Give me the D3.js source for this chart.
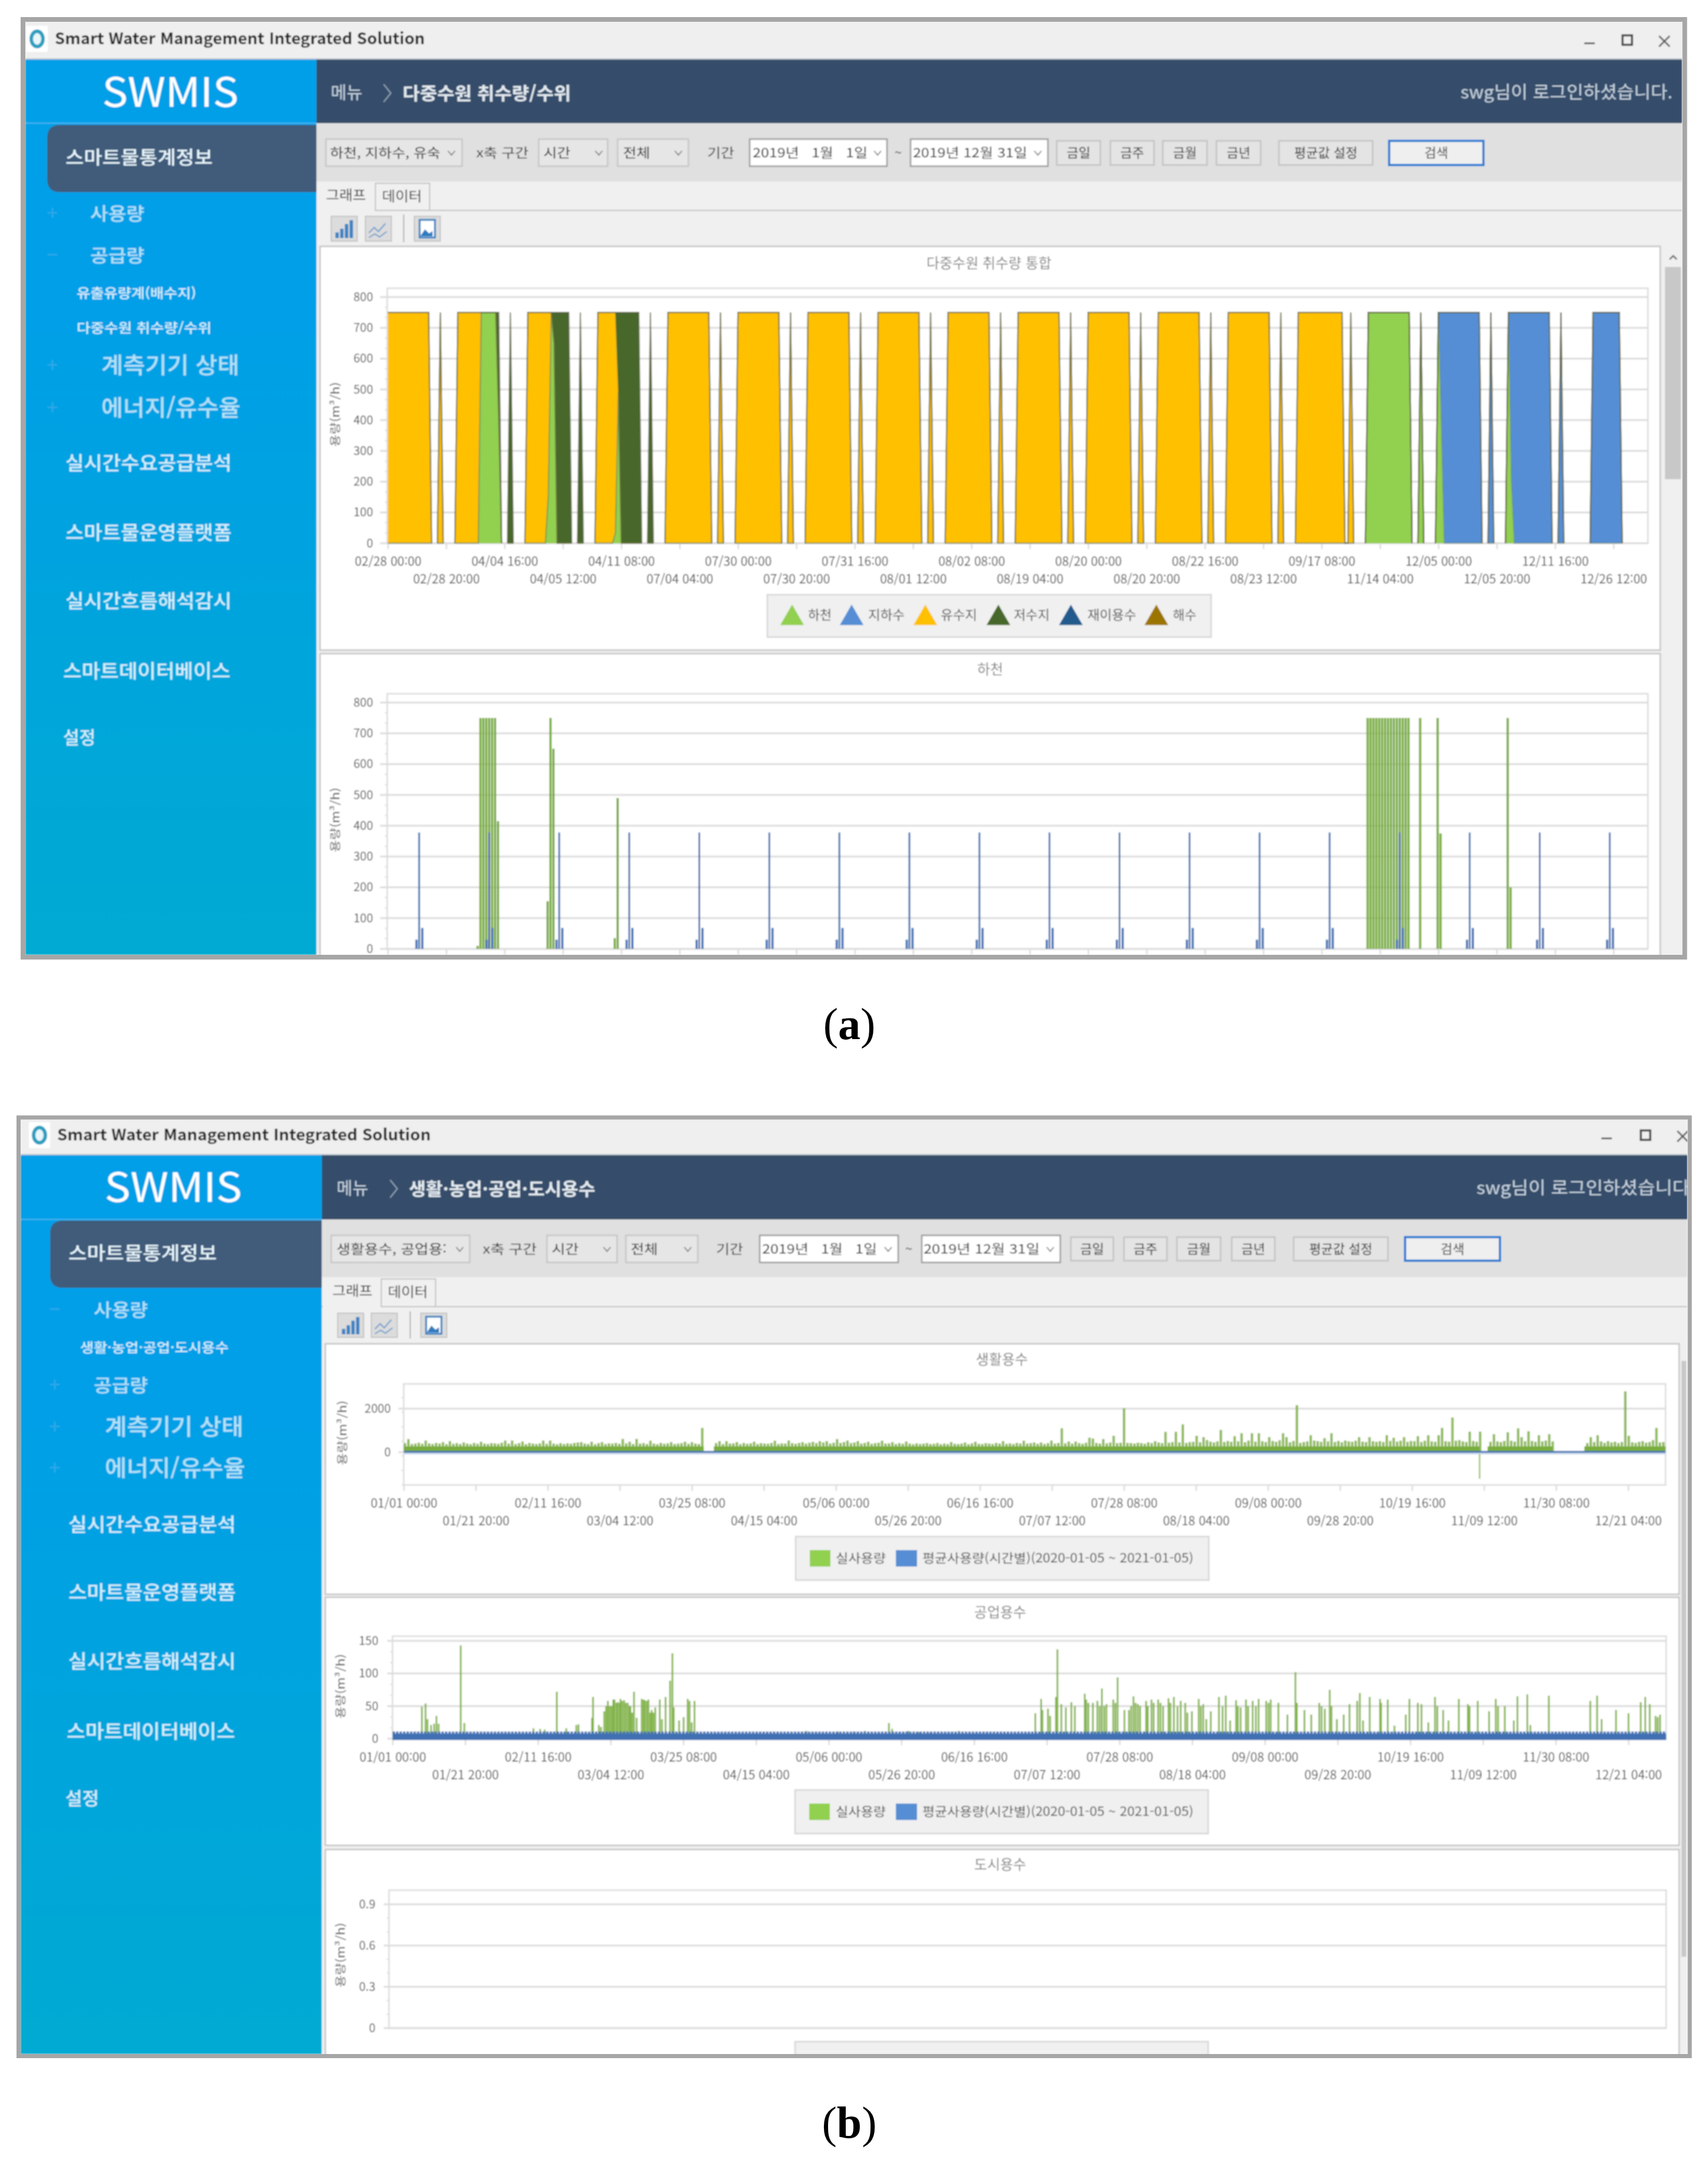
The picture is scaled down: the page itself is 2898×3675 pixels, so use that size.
<!DOCTYPE html>
<html lang="ko">
<head>
<meta charset="utf-8">
<title>SWMIS</title>
<script src="https://cdn.jsdelivr.net/npm/d3@7/dist/d3.min.js"></script>
<style>
  html, body { margin: 0; padding: 0; background: #fff; }
  svg { display: block; }
  text { font-family: "Noto Sans CJK KR", "Noto Sans", sans-serif; }
  .axis text { font-size: 21px; fill: #4c4c4c; }
  .axis line { stroke: #dcdcdc; stroke-width: 2.5; }
  .axis .domain { display: none; }
</style>
</head>
<body>
<svg id="page" width="2898" height="3675" viewBox="0 0 2898 3675"></svg>
<script>
/* ---- chart values ---- */

// (a) stacked area, hourly points; runs are [first hour, last hour, m3/h]
const mixLabels = ["02/28 00:00", "02/28 20:00", "04/04 16:00", "04/05 12:00", "04/11 08:00", "07/04 04:00",
  "07/30 00:00", "07/30 20:00", "07/31 16:00", "08/01 12:00", "08/02 08:00", "08/19 04:00", "08/20 00:00",
  "08/20 20:00", "08/22 16:00", "08/23 12:00", "09/17 08:00", "11/14 04:00", "12/05 00:00", "12/05 20:00",
  "12/11 16:00", "12/26 12:00"];
const mixNames = ["하천", "지하수", "유수지", "저수지", "재이용수", "해수"];
const mixRiver = [[32, 37, 750], [38, 38, 415], [55, 55, 155], [56, 56, 750], [57, 57, 650], [78, 78, 35],
  [79, 79, 490], [336, 350, 750], [354, 354, 750], [360, 360, 750], [361, 361, 375], [384, 384, 750], [385, 385, 200]];
const mixGround = [[361, 361, 375], [362, 374, 750], [378, 378, 750], [385, 385, 550], [386, 398, 750],
  [402, 402, 750], [413, 422, 750]];
const mixPond = [[0, 14, 750], [18, 18, 750], [24, 31, 750], [48, 54, 750], [55, 55, 595], [72, 77, 750], [78, 78, 715],
  [96, 110, 750], [114, 114, 750], [120, 134, 750], [138, 138, 750], [144, 158, 750], [162, 162, 750],
  [168, 182, 750], [186, 186, 750], [192, 206, 750], [210, 210, 750], [216, 230, 750], [234, 234, 750],
  [240, 254, 750], [258, 258, 750], [264, 278, 750], [282, 282, 750], [288, 302, 750], [306, 306, 750],
  [312, 327, 750], [330, 330, 750]];
const mixReservoir = [[38, 38, 335], [42, 42, 750], [57, 57, 100], [58, 62, 750], [66, 66, 750],
  [79, 79, 260], [80, 86, 750], [90, 90, 750]];
const mixReuse = [];
const mixSea = [];

// (a) lower chart, columns per hour
const riverFlow = [[31, 31, 10], [32, 37, 750], [38, 38, 415], [55, 55, 155], [56, 56, 750], [57, 57, 650],
  [78, 78, 35], [79, 79, 490], [336, 350, 750], [354, 354, 750], [360, 360, 750], [361, 361, 375],
  [384, 384, 750], [385, 385, 200]];
const groundDailyProfile = [[10, 30], [11, 378], [12, 68]];
const flowDays = 18;

// (b) tick labels
const yearLabels = ["01/01 00:00", "01/21 20:00", "02/11 16:00", "03/04 12:00", "03/25 08:00", "04/15 04:00",
  "05/06 00:00", "05/26 20:00", "06/16 16:00", "07/07 12:00", "07/28 08:00", "08/18 04:00", "09/08 00:00",
  "09/28 20:00", "10/19 16:00", "11/09 12:00", "11/30 08:00", "12/21 04:00"];

// (b) 생활용수: highest reading per day
const domesticUse = [
  420, 604, 380, 400, 440, 390, 540, 410, 380, 430, 400, 468, 370, 513, 390, 420, 380, 450, 400, 370,
  430, 390, 486, 400, 380, 420, 410, 390, 440, 540, 400, 540, 380, 420, 495, 370, 430, 400, 380, 410,
  540, 390, 540, 400, 370, 420, 380, 410, 390, 430, 450, 468, 400, 380, 486, 370, 420, 468, 380, 410,
  400, 430, 390, 612, 410, 486, 380, 612, 400, 420, 380, 531, 400, 370, 430, 390, 410, 468, 380, 400,
  420, 486, 390, 468, 400, 380, 1117, 0, 0, 0, 420, 513, 380, 513, 400, 410, 468, 370, 430, 390,
  410, 486, 380, 420, 400, 390, 430, 531, 380, 410, 400, 540, 420, 390, 430, 468, 400, 440, 480, 420,
  513, 450, 513, 400, 440, 604, 430, 470, 540, 420, 450, 513, 400, 430, 486, 390, 420, 440, 531, 400,
  410, 468, 380, 420, 390, 495, 400, 370, 410, 380, 400, 423, 380, 390, 423, 370, 400, 380, 468, 390,
  380, 400, 450, 370, 410, 486, 390, 380, 420, 400, 380, 430, 400, 513, 390, 410, 380, 430, 400, 531,
  400, 420, 450, 390, 450, 380, 420, 540, 400, 430, 1099, 410, 495, 400, 495, 420, 390, 440, 667, 630,
  430, 400, 604, 410, 450, 757, 420, 440, 2018, 430, 423, 400, 440, 423, 390, 460, 420, 513, 450, 420,
  937, 440, 470, 937, 450, 1279, 430, 468, 480, 757, 460, 694, 558, 490, 450, 500, 1027, 470, 520, 480,
  739, 500, 874, 460, 540, 874, 490, 874, 510, 470, 694, 520, 480, 550, 874, 694, 460, 520, 2162, 430,
  470, 500, 784, 540, 513, 480, 649, 500, 874, 470, 520, 460, 540, 500, 480, 530, 694, 490, 470, 694,
  510, 480, 513, 470, 784, 520, 667, 490, 530, 694, 480, 520, 510, 739, 470, 530, 784, 500, 480, 784,
  1117, 510, 490, 1595, 530, 558, 500, 470, 946, 520, 480, 946, 0, 0, 480, 829, 500, 468, 520, 919,
  530, 490, 1099, 694, 510, 964, 520, 480, 784, 500, 540, 829, 500, 0, 0, 0, 0, 0, 0, 0,
  0, 0, 420, 694, 470, 784, 500, 430, 513, 450, 486, 420, 470, 2793, 757, 460, 430, 480, 513, 440,
  470, 558, 1117, 450, 468];
const domesticFloorRuns = [[0, 86.8], [89.7, 311.2], [313.5, 332.3], [341.5, 365]];
const domesticFloor = 270;
const domesticDips = [[311, -1216], [320, -70], [326, -70]];
const domesticAverage = [60, -20];
const domesticAveragePale = [-20, -100];

// (b) 공업용수: [hour, m3/h]
const industrialUse = [[196, 49], [221, 54], [234, 30], [259, 21], [280, 23], [296, 35], [311, 23], [463, 143], [488, 24],
  [963, 16], [1009, 15], [1041, 14], [1124, 72], [1189, 16], [1258, 21], [1273, 22], [1366, 32], [1373, 64], [1413, 21], [1428, 18],
  [1450, 42], [1463, 50], [1475, 58], [1487, 50], [1500, 50], [1512, 60], [1521, 60], [1534, 55], [1543, 56], [1556, 55],
  [1562, 61], [1574, 58], [1587, 59], [1599, 55], [1612, 55], [1624, 50], [1630, 50], [1642, 40], [1655, 72], [1673, 32],
  [1708, 61], [1720, 60], [1729, 59], [1742, 58], [1754, 60], [1767, 40], [1776, 44], [1788, 40], [1801, 48], [1832, 60],
  [1847, 30], [1872, 64], [1903, 89], [1919, 131], [1928, 48], [1965, 28], [1996, 33], [2024, 61], [2037, 58], [2052, 25], [2071, 58],
  [2840, 12], [3057, 11], [3166, 11], [3243, 12], [3337, 10], [3408, 24], [3430, 15], [3539, 12], [3616, 10], [3693, 10], [3889, 12],
  [4415, 39], [4455, 61], [4464, 44], [4502, 46], [4517, 35], [4557, 64], [4567, 137], [4594, 53], [4625, 48], [4663, 56],
  [4687, 50], [4755, 69], [4765, 60], [4780, 55], [4811, 55], [4842, 58], [4858, 50], [4873, 77], [4889, 50], [4904, 53],
  [4951, 60], [4966, 55], [4981, 94], [5028, 44], [5059, 44], [5074, 50], [5090, 65], [5105, 55], [5121, 53], [5136, 50],
  [5177, 58], [5189, 50], [5214, 60], [5229, 55], [5260, 60], [5276, 55], [5294, 50], [5331, 62], [5344, 55], [5368, 64],
  [5393, 50], [5415, 58], [5446, 55], [5461, 40], [5492, 42], [5539, 61], [5554, 50], [5570, 53], [5591, 30], [5622, 42],
  [5678, 64], [5703, 50], [5725, 66], [5755, 28], [5796, 59], [5808, 50], [5827, 48], [5864, 60], [5879, 50], [5910, 58],
  [5932, 50], [5951, 61], [6003, 58], [6019, 55], [6034, 60], [6087, 55], [6149, 37], [6204, 102], [6214, 55], [6266, 44],
  [6313, 37], [6368, 55], [6384, 50], [6406, 46], [6440, 75], [6452, 50], [6489, 30], [6536, 37], [6576, 53], [6629, 58],
  [6647, 70], [6669, 28], [6715, 64], [6786, 61], [6793, 55], [6839, 60], [6885, 20], [6963, 37], [6988, 61], [7046, 55],
  [7071, 53], [7118, 25], [7164, 64], [7180, 50], [7220, 44], [7257, 28], [7328, 61], [7390, 53], [7402, 50], [7458, 58],
  [7536, 42], [7582, 61], [7598, 50], [7644, 50], [7706, 28], [7731, 65], [7799, 68], [7820, 21], [7947, 66], [8232, 58],
  [8279, 66], [8310, 30], [8409, 44], [8495, 39], [8579, 56], [8610, 64], [8641, 53], [8681, 35], [8696, 33], [8712, 37]];
const industrialAverage = [-2, 8];
const industrialAverageTeeth = [8, 11];
const yearDays = 365;

const useNames = ["실사용량", "평균사용량(시간별)(2020-01-05 ~ 2021-01-05)"];

/* ---- helpers ---- */
const GREEN = "#92d050", BLUE = "#558ed5", BAR_GREEN = "#7aae3e", BAR_BLUE = "#3f70b3";
const mixColors = [GREEN, BLUE, "#ffc000", "#47682b", "#215a8e", "#9c7500"];
const mixLineColors = ["#5f7f30", "#4a6a80", "#8a6d10", "#5a6a40", "#35506a", "#7a6a30"];

const svg = d3.select("#page");
const defs = svg.append("defs");
const soft = defs.append("filter").attr("id", "soft").attr("x", 0).attr("y", 0).attr("width", 1).attr("height", 1);
soft.append("feGaussianBlur").attr("stdDeviation", 0.8);

function rect(g, x0, y0, x1, y1, fill, stroke, sw) {
  return g.append("rect").attr("x", x0).attr("y", y0).attr("width", x1 - x0).attr("height", y1 - y0)
    .attr("fill", fill).attr("stroke", stroke || "none").attr("stroke-width", sw || 0);
}

function label(g, x, y, str, size, fill, width, anchor) {
  const t = g.append("text").attr("x", x).attr("y", y).attr("dy", ".35em").attr("font-size", size)
    .attr("fill", fill).attr("text-anchor", anchor || "start").text(str);
  if (width) t.attr("textLength", width).attr("lengthAdjust", "spacingAndGlyphs");
  return t;
}

function expandRuns(runs, length) {
  const out = new Array(length).fill(0);
  runs.forEach(([a, b, v]) => { for (let h = a; h <= b; h++) out[h] = v; });
  return out;
}

function chevron(g, x, y) {
  g.append("path").attr("d", `M${x - 6},${y - 3}L${x},${y + 4}L${x + 6},${y - 3}`)
    .attr("fill", "none").attr("stroke", "#777").attr("stroke-width", 1.8);
}

function iconButton(g, x0, y0, x1, y1, kind) {
  rect(g, x0, y0, x1, y1, "#dcdcdc", "#c4c4c4", 2);
  const h = (y1 - y0);
  if (kind === "bars") {
    [0.3, 0.5, 0.75, 0.95].forEach((f, i) => rect(g, x0 + 7 + i * 8, y1 - 5 - (h - 10) * f, x0 + 13 + i * 8, y1 - 5, "#3f85c4"));
  } else if (kind === "lines") {
    g.append("path").attr("d", `M${x0 + 6},${y1 - 14}l9,-9l7,7l12,-14M${x0 + 6},${y1 - 6}l10,-6l8,5l12,-9`)
      .attr("fill", "none").attr("stroke", "#6a9ccc").attr("stroke-width", 2);
  } else {
    rect(g, x0 + 9, y0 + 6, x1 - 9, y1 - 6, "#fff", "#2f7cc0", 3);
    g.append("path").attr("d", `M${x0 + 10},${y1 - 8}l8,-12l7,7l6,-4v9z`).attr("fill", "#2f7cc0");
  }
}

// one application window with its sidebar, header, tool row and tabs
function drawWindow(c) {
  const id = "clip" + c.id;
  defs.append("clipPath").attr("id", id).append("rect")
    .attr("x", c.x0).attr("y", c.y0).attr("width", c.x1 - c.x0).attr("height", c.y1 - c.y0);
  const g = svg.append("g").attr("clip-path", `url(#${id})`);
  const grad = defs.append("linearGradient").attr("id", "side" + c.id).attr("x1", 0).attr("x2", 0).attr("y1", 0).attr("y2", 1);
  grad.append("stop").attr("offset", "0.25").attr("stop-color", "#009fe8");
  grad.append("stop").attr("offset", "1").attr("stop-color", "#00aad2");

  rect(g, c.x0, c.y0, c.x1, c.y1, "#f0f0f0");
  rect(g, c.x0, c.y0, c.x1, c.titleY, "#efefef");
  rect(g, c.x0, c.titleY - 2, c.x1, c.titleY, "#b9c4cf");
  rect(g, c.logo - 18, c.titleCy - 22, c.logo + 18, c.titleCy + 22, "#ffffff");
  g.append("ellipse").attr("cx", c.logo).attr("cy", c.titleCy).attr("rx", 10).attr("ry", 13)
    .attr("fill", "#eaf6f9").attr("stroke", "#2a9fc0").attr("stroke-width", 6);
  label(g, c.title[0], c.titleCy, "Smart Water Management Integrated Solution", 27, "#222", c.title[1] - c.title[0]).attr("font-weight", 700);
  rect(g, c.ctl[0] - 9, c.ctl[3] + 3, c.ctl[0] + 9, c.ctl[3] + 6, "#555");
  rect(g, c.ctl[1] - 8, c.ctl[3] - 9, c.ctl[1] + 8, c.ctl[3] + 7, "none", "#444", 3.5);
  g.append("path").attr("d", `M${c.ctl[2] - 9},${c.ctl[3] - 8}l18,18m0,-18l-18,18`).attr("stroke", "#555").attr("stroke-width", 2.5);

  rect(g, c.x0, c.titleY, c.sideX, c.y1, `url(#side${c.id})`);
  rect(g, c.sideX, c.titleY, c.x1, c.headY, "#344d6b");
  rect(g, c.x0, c.headY - 1, c.sideX, c.headY + 1, "#3fb4ee");
  rect(g, c.sideX, c.headY, c.x1, c.toolY, "#e0e0e0");
  label(g, c.logoCx, c.logoCy, "SWMIS", 68, "#ffffff", c.logoW, "middle");
  label(g, c.menu[0], c.headCy, "메뉴", 29, "#c8d3df", 54);
  g.append("path").attr("d", `M${c.menu[1] - 6},${c.headCy - 15}l12,15l-12,15`).attr("fill", "none").attr("stroke", "#98a8ba").attr("stroke-width", 2);
  label(g, c.crumb[0], c.headCy, c.crumb[2], 30, "#e4eaf0", c.crumb[1] - c.crumb[0]).attr("font-weight", 700);
  label(g, c.user[0], c.headCy - 1, c.user[2], 29, "#c8d3df", c.user[1] - c.user[0]);

  g.append("path").attr("d", `M${c.sideX},${c.pill[1]}H${c.pill[0] + 22}Q${c.pill[0]},${c.pill[1]} ${c.pill[0]},${c.pill[1] + 22}V${c.pill[2] - 22}Q${c.pill[0]},${c.pill[2]} ${c.pill[0] + 22},${c.pill[2]}H${c.sideX}Z`).attr("fill", "#3f5b7a");
  c.sideItems.forEach(([x, y, str, size, w, fill]) => label(g, x, y, str, size, fill || "#d6f0fc", w).attr("font-weight", 500));
  c.marks.forEach(([y, m]) => label(g, c.markX, y, m, 34, "#2fa9e8", null, "middle"));

  // tool row
  c.selects.forEach(([x0, x1, str, tx, tw, chev, white]) => {
    rect(g, x0, c.selY[0], x1, c.selY[1], white ? "#ffffff" : "#e6e6e6", white ? "#9a9a9a" : "#c6c6c6", 2.5);
    label(g, tx, c.toolCy, str, 22, "#222", tw);
    chevron(g, chev, c.toolCy);
  });
  c.toolTexts.forEach(([x, str, w]) => label(g, x, c.toolCy, str, 22, "#333", w));
  c.buttons.forEach(([x0, x1, str]) => {
    rect(g, x0, c.btnY[0], x1, c.btnY[1], "#e4e4e4", "#c2c2c2", 2.5);
    label(g, (x0 + x1) / 2, c.toolCy, str, 22, "#222", null, "middle");
  });
  rect(g, c.search[0], c.btnY[0], c.search[1], c.btnY[1], "#efefef", "#1f7fd6", 4);
  label(g, (c.search[0] + c.search[1]) / 2, c.toolCy, "검색", 22, "#333", null, "middle");

  // tabs and icons
  rect(g, c.sideX, c.tabLine - 1, c.x1, c.tabLine + 1, "#c2c2c2");
  rect(g, c.tabA[0], c.toolY, c.tabA[1], c.tabLine + 1, "#f0f0f0");
  rect(g, c.tabA[1] - 1, c.toolY + 3, c.tabB, c.tabLine, "#f0f0f0", "#c2c2c2", 2);
  label(g, c.tabA[2], c.toolY + 23, "그래프", 23, "#222", 68);
  label(g, c.tabA[1] + 10, c.toolY + 25, "데이터", 23, "#333", 68);
  iconButton(g, c.icons[0], c.iconY[0], c.icons[0] + 44, c.iconY[1], "bars");
  iconButton(g, c.icons[1], c.iconY[0], c.icons[1] + 44, c.iconY[1], "lines");
  rect(g, c.icons[2] - 1, c.iconY[0] - 3, c.icons[2] + 1, c.iconY[1] + 2, "#b0b0b0");
  iconButton(g, c.icons[3], c.iconY[0], c.icons[3] + 44, c.iconY[1], "image");
  return g;
}

// white chart panel: frame, title, y axis, grid; returns scales and plot layer
function drawPanel(g, c) {
  const panel = g.append("g");
  rect(panel, c.panel[0], c.panel[1], c.panel[2], c.panel[3], "#ffffff", "#c4c4c4", 2.5);
  label(panel, c.titleX, c.titleY, c.title, 24, "#808080", null, "middle");

  const x = d3.scaleLinear().domain(c.xDomain).range(c.xRange);
  const y = d3.scaleLinear().domain(c.yDomain).range(c.yRange);
  const major = c.yTicks[1] - c.yTicks[0];
  const minor = d3.range(c.yDomain[0], c.yDomain[1], major / 3);

  panel.append("g").selectAll("line").data(minor).join("line")
    .attr("x1", c.left - 4).attr("x2", c.left).attr("y1", y).attr("y2", y)
    .attr("stroke", "#dedede").attr("stroke-width", 2);
  panel.append("g").selectAll("line").data(c.yTicks).join("line")
    .attr("x1", c.gridFrom).attr("x2", c.right).attr("y1", y).attr("y2", y)
    .attr("stroke", "#dcdcdc").attr("stroke-width", 3);
  rect(panel, c.left, c.top, c.right, c.bottom, "none", "#dcdcdc", 2.5);

  const yAxis = panel.append("g").attr("class", "axis")
    .attr("transform", `translate(${c.labelRight},0)`)
    .call(d3.axisLeft(y).tickValues(c.yTicks).tickSize(0).tickPadding(0).tickFormat((d) => String(d)));
  yAxis.selectAll("text").attr("font-size", 20).style("font-size", "20px");

  panel.append("text").attr("transform", `translate(${c.unitX},${c.unitY}) rotate(-90)`)
    .attr("text-anchor", "middle").attr("dy", ".35em").attr("font-size", 19).attr("fill", "#4a4a4a")
    .attr("textLength", 110).attr("lengthAdjust", "spacingAndGlyphs").text("용량(m³/h)");

  if (c.xLabels) {
    const xAxis = panel.append("g").attr("class", "axis").attr("transform", `translate(0,${c.bottom})`)
      .call(d3.axisBottom(x).tickValues(c.xTicks).tickSize(10).tickFormat((d, i) => c.xLabels[i]));
    xAxis.selectAll("text").attr("y", (d, i) => (i % 2 ? 61 : 31)).attr("dy", ".35em");
  } else {
    panel.append("g").attr("class", "axis").attr("transform", `translate(0,${c.bottom})`)
      .call(d3.axisBottom(x).tickValues(c.xTicks).tickSize(10).tickFormat(""));
  }
  return { g: panel, x, y };
}

function swatchLegend(g, box, cy, items) {
  rect(g, box[0], cy - 37, box[1], cy + 37, "#f0f0f0", "#d6d6d6", 2.5);
  rect(g, items[0], cy - 14, items[0] + 35, cy + 14, GREEN);
  label(g, items[1], cy, useNames[0], 21, "#4c4c4c", 85);
  rect(g, items[2], cy - 14, items[2] + 36, cy + 14, BLUE);
  label(g, items[3], cy, useNames[1], 21, "#4c4c4c", items[4] - items[3]);
}

/* ---- window (a) ---- */
const winA = drawWindow({
  id: "A", x0: 43, y0: 36, x1: 2854, y1: 1620, titleY: 101, titleCy: 66, logo: 63, title: [93, 721],
  ctl: [2697, 2761, 2824, 69], sideX: 537, headY: 209, toolY: 308, logoCx: 289, logoCy: 157, logoW: 231,
  menu: [561, 657], headCy: 158, crumb: [683, 969, "다중수원 취수량/수위"], user: [2478, 2838, "swg님이 로그인하셨습니다."],
  pill: [80, 212, 326],
  sideItems: [[111, 267, "스마트물통계정보", 31, 250, "#e8f6fd"], [153, 362, "사용량", 30, 92, "#b4e2f8"], [153, 433, "공급량", 30, 92, "#b4e2f8"],
    [130, 497, "유출유량계(배수지)", 22, 203], [130, 556, "다중수원 취수량/수위", 22, 229],
    [172, 620, "계측기기 상태", 38, 234, "#b4e2f8"], [172, 692, "에너지/유수율", 38, 236, "#b4e2f8"],
    [111, 786, "실시간수요공급분석", 32, 282], [111, 904, "스마트물운영플랫폼", 32, 282], [111, 1020, "실시간흐름해석감시", 32, 282],
    [107, 1139, "스마트데이터베이스", 32, 284], [107, 1251, "설정", 30, 55]],
  markX: 89, marks: [[362, "+"], [433, "−"], [620, "+"], [692, "+"]],
  toolCy: 259, selY: [236, 282], btnY: [239, 280],
  selects: [[553, 784, "하천, 지하수, 유숙", 560, 187, 766], [914, 1031, "시간", 922, 46, 1016], [1048, 1168, "전체", 1057, 46, 1151],
    [1272, 1505, "2019년\u00a0\u00a0\u00a01월\u00a0\u00a0\u00a01일", 1277, 195, 1489, true], [1545, 1778, "2019년 12월 31일", 1549, 194, 1761, true]],
  toolTexts: [[808, "x축 구간", 89], [1200, "기간", 46], [1518, "~", null]],
  buttons: [[1793, 1867, "금일"], [1884, 1958, "금주"], [1973, 2048, "금월"], [2064, 2139, "금년"], [2170, 2329, "평균값 설정"]],
  search: [2357, 2517], tabLine: 357, tabA: [537, 638, 553], tabB: 729,
  iconY: [367, 409], icons: [562, 620, 685, 703]
});
rect(winA, 2824, 418, 2854, 1620, "#f0f0f0");
rect(winA, 2825, 453, 2852, 813, "#c8c8c8");
winA.append("path").attr("d", "M2833,440l6,-6l6,6").attr("fill", "none").attr("stroke", "#666").attr("stroke-width", 2.5);

// stacked sources
const mixHours = 432;
const mixSeries = [mixRiver, mixGround, mixPond, mixReservoir, mixReuse, mixSea].map((r) => expandRuns(r, mixHours));
const mixRows = d3.range(mixHours).map((h) => {
  const row = { hour: h };
  mixNames.forEach((n, i) => { row[n] = mixSeries[i][h]; });
  return row;
});
const mixStack = d3.stack().keys(mixNames)(mixRows);
const mixTotal = mixRows.map((r) => d3.sum(mixNames, (n) => r[n]));

const mixPanel = drawPanel(winA, {
  panel: [543, 418, 2817, 1103], title: "다중수원 취수량 통합", titleX: 1678, titleY: 447,
  xDomain: [0, mixHours], xRange: [658, 2797], yDomain: [0, 800], yRange: [921.7, 504], yTicks: d3.range(0, 801, 100),
  left: 657, right: 2796, top: 489, bottom: 921.7, gridFrom: 645, labelRight: 633, unitX: 569, unitY: 703,
  xTicks: d3.range(0, 430, 20), xLabels: mixLabels
});
const mixArea = d3.area().x((d) => mixPanel.x(d.data.hour)).y0((d) => mixPanel.y(d[0])).y1((d) => mixPanel.y(d[1]));
mixPanel.g.append("g").selectAll("path").data(mixStack).join("path")
  .attr("d", mixArea).attr("fill", (d, i) => mixColors[i]);
const mixLine = d3.line().x((d) => mixPanel.x(d.data.hour)).y((d) => mixPanel.y(d[1]))
  .defined((d) => {
    const h = d.data.hour;
    return mixTotal[h] > 0 || mixTotal[h - 1] > 0 || mixTotal[h + 1] > 0;
  });
mixPanel.g.append("g").selectAll("path").data(mixStack).join("path")
  .attr("d", mixLine).attr("fill", "none").attr("stroke", (d, i) => mixLineColors[i])
  .attr("stroke-width", 2.2).attr("stroke-opacity", 0.32);

const triLegend = winA.append("g");
rect(triLegend, 1302, 1009, 2055, 1081, "#f0f0f0", "#d6d6d6", 2.5);
const triPos = [[1344, 1371, 40], [1445, 1473, 62], [1570, 1596, 62], [1694, 1720, 61], [1817, 1845, 83], [1962, 1990, 40]];
mixNames.forEach((n, i) => {
  const [cx, tx, w] = triPos[i];
  triLegend.append("path").attr("d", d3.symbol(d3.symbolTriangle, 700)())
    .attr("transform", `translate(${cx},1049)`).attr("fill", mixColors[i]);
  label(triLegend, tx, 1043, n, 22, "#4c4c4c", w);
});

// river and groundwater columns
const riverPanel = drawPanel(winA, {
  panel: [543, 1109, 2817, 1640], title: "하천", titleX: 1680, titleY: 1136,
  xDomain: [0, mixHours], xRange: [658, 2797], yDomain: [0, 800], yRange: [1610, 1192], yTicks: d3.range(0, 801, 100),
  left: 657, right: 2796, top: 1177, bottom: 1610, gridFrom: 645, labelRight: 633, unitX: 569, unitY: 1391,
  xTicks: d3.range(0, 430, 20), xLabels: null
});
const riverRows = expandRuns(riverFlow, mixHours).map((v, h) => ({ h, v })).filter((d) => d.v > 0);
const groundRows = d3.range(flowDays).flatMap((day) => groundDailyProfile.map(([h, v]) => ({ h: h + day * 24, v })));
riverPanel.g.append("g").selectAll("rect").data(riverRows).join("rect")
  .attr("x", (d) => riverPanel.x(d.h) - 3.2).attr("width", 4)
  .attr("y", (d) => riverPanel.y(d.v)).attr("height", (d) => riverPanel.y(0) - riverPanel.y(d.v))
  .attr("fill", BAR_GREEN);
riverPanel.g.append("g").selectAll("rect").data(groundRows).join("rect")
  .attr("x", (d) => riverPanel.x(d.h) - 2.8).attr("width", (d) => (d.v > 100 ? 3 : 3.8))
  .attr("y", (d) => riverPanel.y(d.v)).attr("height", (d) => riverPanel.y(0) - riverPanel.y(d.v))
  .attr("fill", BAR_BLUE);

/* ---- window (b) ---- */
const winB = drawWindow({
  id: "B", x0: 35, y0: 1899, x1: 2863, y1: 3485, titleY: 1960, titleCy: 1926, logo: 67, title: [97, 731],
  ctl: [2726, 2792, 2855, 1927], sideX: 546, headY: 2069, toolY: 2167, logoCx: 294, logoCy: 2015, logoW: 233,
  menu: [571, 668], headCy: 2017, crumb: [694, 1010, "생활·농업·공업·도시용수"], user: [2505, 2876, "swg님이 로그인하셨습니다."],
  pill: [85, 2071, 2185],
  sideItems: [[116, 2126, "스마트물통계정보", 31, 252, "#e8f6fd"], [159, 2222, "사용량", 30, 92, "#b4e2f8"],
    [136, 2286, "생활·농업·공업·도시용수", 22, 252], [159, 2350, "공급량", 30, 92, "#b4e2f8"],
    [178, 2421, "계측기기 상태", 38, 235, "#b4e2f8"], [178, 2491, "에너지/유수율", 38, 238, "#b4e2f8"],
    [116, 2587, "실시간수요공급분석", 32, 284], [116, 2702, "스마트물운영플랫폼", 32, 284], [116, 2819, "실시간흐름해석감시", 32, 284],
    [113, 2938, "스마트데이터베이스", 32, 286], [111, 3051, "설정", 30, 57]],
  markX: 93, marks: [[2222, "−"], [2350, "+"], [2421, "+"], [2491, "+"]],
  toolCy: 2119, selY: [2096, 2142], btnY: [2099, 2139],
  selects: [[562, 797, "생활용수, 공업용:", 571, 187, 780], [928, 1047, "시간", 936, 46, 1030], [1062, 1184, "전체", 1070, 46, 1167],
    [1289, 1524, "2019년\u00a0\u00a0\u00a01월\u00a0\u00a0\u00a01일", 1293, 195, 1507, true], [1564, 1799, "2019년 12월 31일", 1567, 197, 1782, true]],
  toolTexts: [[819, "x축 구간", 92], [1215, "기간", 46], [1536, "~", null]],
  buttons: [[1817, 1889, "금일"], [1907, 1980, "금주"], [1997, 2071, "금월"], [2090, 2163, "금년"], [2195, 2355, "평균값 설정"]],
  search: [2384, 2545], tabLine: 2217, tabA: [548, 648, 564], tabB: 739,
  iconY: [2228, 2269], icons: [573, 630, 696, 714]
});
rect(winB, 2853, 2309, 2861, 3320, "#c8c8c8");

const yearTicks = d3.range(0, 8760, 500);
const hourOfDay = 24;

const domesticPanel = drawPanel(winB, {
  panel: [552, 2280, 2849, 2705], title: "생활용수", titleX: 1700, titleY: 2307,
  xDomain: [0, 8760], xRange: [685, 2826], yDomain: [-1500, 3000], yRange: [2519.5, 2353], yTicks: [0, 2000],
  left: 685, right: 2826, top: 2348, bottom: 2519.5, gridFrom: 676, labelRight: 663, unitX: 581, unitY: 2431,
  xTicks: yearTicks, xLabels: yearLabels
});
const dx = domesticPanel.x, dy = domesticPanel.y;
domesticPanel.g.append("g").selectAll("rect").data(domesticUse).join("rect")
  .attr("x", (d, i) => dx(i * hourOfDay)).attr("width", 4.2)
  .attr("y", (d) => dy(d)).attr("height", (d) => dy(0) - dy(d))
  .attr("fill", BAR_GREEN).attr("opacity", 0.85);
domesticPanel.g.append("g").selectAll("rect").data(domesticFloorRuns).join("rect")
  .attr("x", (d) => dx(d[0] * hourOfDay)).attr("width", (d) => dx(d[1] * hourOfDay) - dx(d[0] * hourOfDay))
  .attr("y", dy(domesticFloor)).attr("height", dy(0) - dy(domesticFloor))
  .attr("fill", BAR_GREEN);
domesticPanel.g.append("g").selectAll("rect").data(domesticDips).join("rect")
  .attr("x", (d) => dx(d[0] * hourOfDay)).attr("width", 2.4)
  .attr("y", dy(0)).attr("height", (d) => dy(d[1]) - dy(0))
  .attr("fill", BAR_GREEN).attr("opacity", 0.8);
rect(domesticPanel.g, dx(0), dy(domesticAveragePale[0]), dx(8760), dy(domesticAveragePale[1]), "#c9d8ec");
rect(domesticPanel.g, dx(0), dy(domesticAverage[0]), dx(8760), dy(domesticAverage[1]), BAR_BLUE);
swatchLegend(domesticPanel.g, [1350, 2051], 2644, [1374, 1418, 1520, 1565, 2025]);

const industrialPanel = drawPanel(winB, {
  panel: [552, 2710, 2849, 3131], title: "공업용수", titleX: 1697, titleY: 2736,
  xDomain: [0, 8760], xRange: [666, 2827], yDomain: [0, 150], yRange: [2950, 2784], yTicks: [0, 50, 100, 150],
  left: 666, right: 2827, top: 2776, bottom: 2951, gridFrom: 657, labelRight: 642, unitX: 578, unitY: 2861,
  xTicks: yearTicks, xLabels: yearLabels
});
const ix = industrialPanel.x, iy = industrialPanel.y;
industrialPanel.g.append("g").selectAll("rect").data(industrialUse).join("rect")
  .attr("x", (d) => ix(d[0])).attr("width", 3)
  .attr("y", (d) => iy(d[1])).attr("height", (d) => iy(0) - iy(d[1]))
  .attr("fill", BAR_GREEN).attr("opacity", 0.9);
rect(industrialPanel.g, ix(0), iy(industrialAverage[1]), ix(8760), iy(industrialAverage[0]), BAR_BLUE);
industrialPanel.g.append("g").selectAll("rect").data(d3.range(yearDays)).join("rect")
  .attr("x", (d) => ix(d * hourOfDay)).attr("width", 4.2)
  .attr("y", iy(industrialAverageTeeth[1])).attr("height", iy(industrialAverageTeeth[0]) - iy(industrialAverageTeeth[1]))
  .attr("fill", BAR_BLUE);
swatchLegend(industrialPanel.g, [1349, 2050], 3074, [1373, 1418, 1520, 1565, 2025]);

const cityPanel = drawPanel(winB, {
  panel: [552, 3138, 2849, 3500], title: "도시용수", titleX: 1697, titleY: 3164,
  xDomain: [0, 8760], xRange: [660, 2827], yDomain: [0, 0.9], yRange: [3441, 3231], yTicks: [0, 0.3, 0.6, 0.9],
  left: 660, right: 2827, top: 3207, bottom: 3441, gridFrom: 651, labelRight: 637, unitX: 578, unitY: 3317,
  xTicks: [], xLabels: null
});
rect(cityPanel.g, 1349, 3464, 2050, 3500, "#f0f0f0", "#d6d6d6", 2.5);

/* ---- window frames and captions ---- */
rect(svg, 39, 33, 2858.5, 1624, "none", "#a6a6a6", 8);
rect(svg, 31.5, 1896, 2867, 3488.5, "none", "#a6a6a6", 7);
svg.selectAll("g").filter(function () { return this.parentNode === svg.node(); }).attr("filter", "url(#soft)");

function caption(y, letter) {
  const t = svg.append("text").attr("x", 1441).attr("y", y).attr("dy", ".35em").attr("text-anchor", "middle")
    .attr("font-size", 76).attr("fill", "#000").style("font-family", "'Liberation Serif', serif");
  t.append("tspan").text("(");
  t.append("tspan").attr("font-weight", "bold").text(letter);
  t.append("tspan").text(")");
}
caption(1736, "a");
caption(3600, "b");
</script>
</body>
</html>
